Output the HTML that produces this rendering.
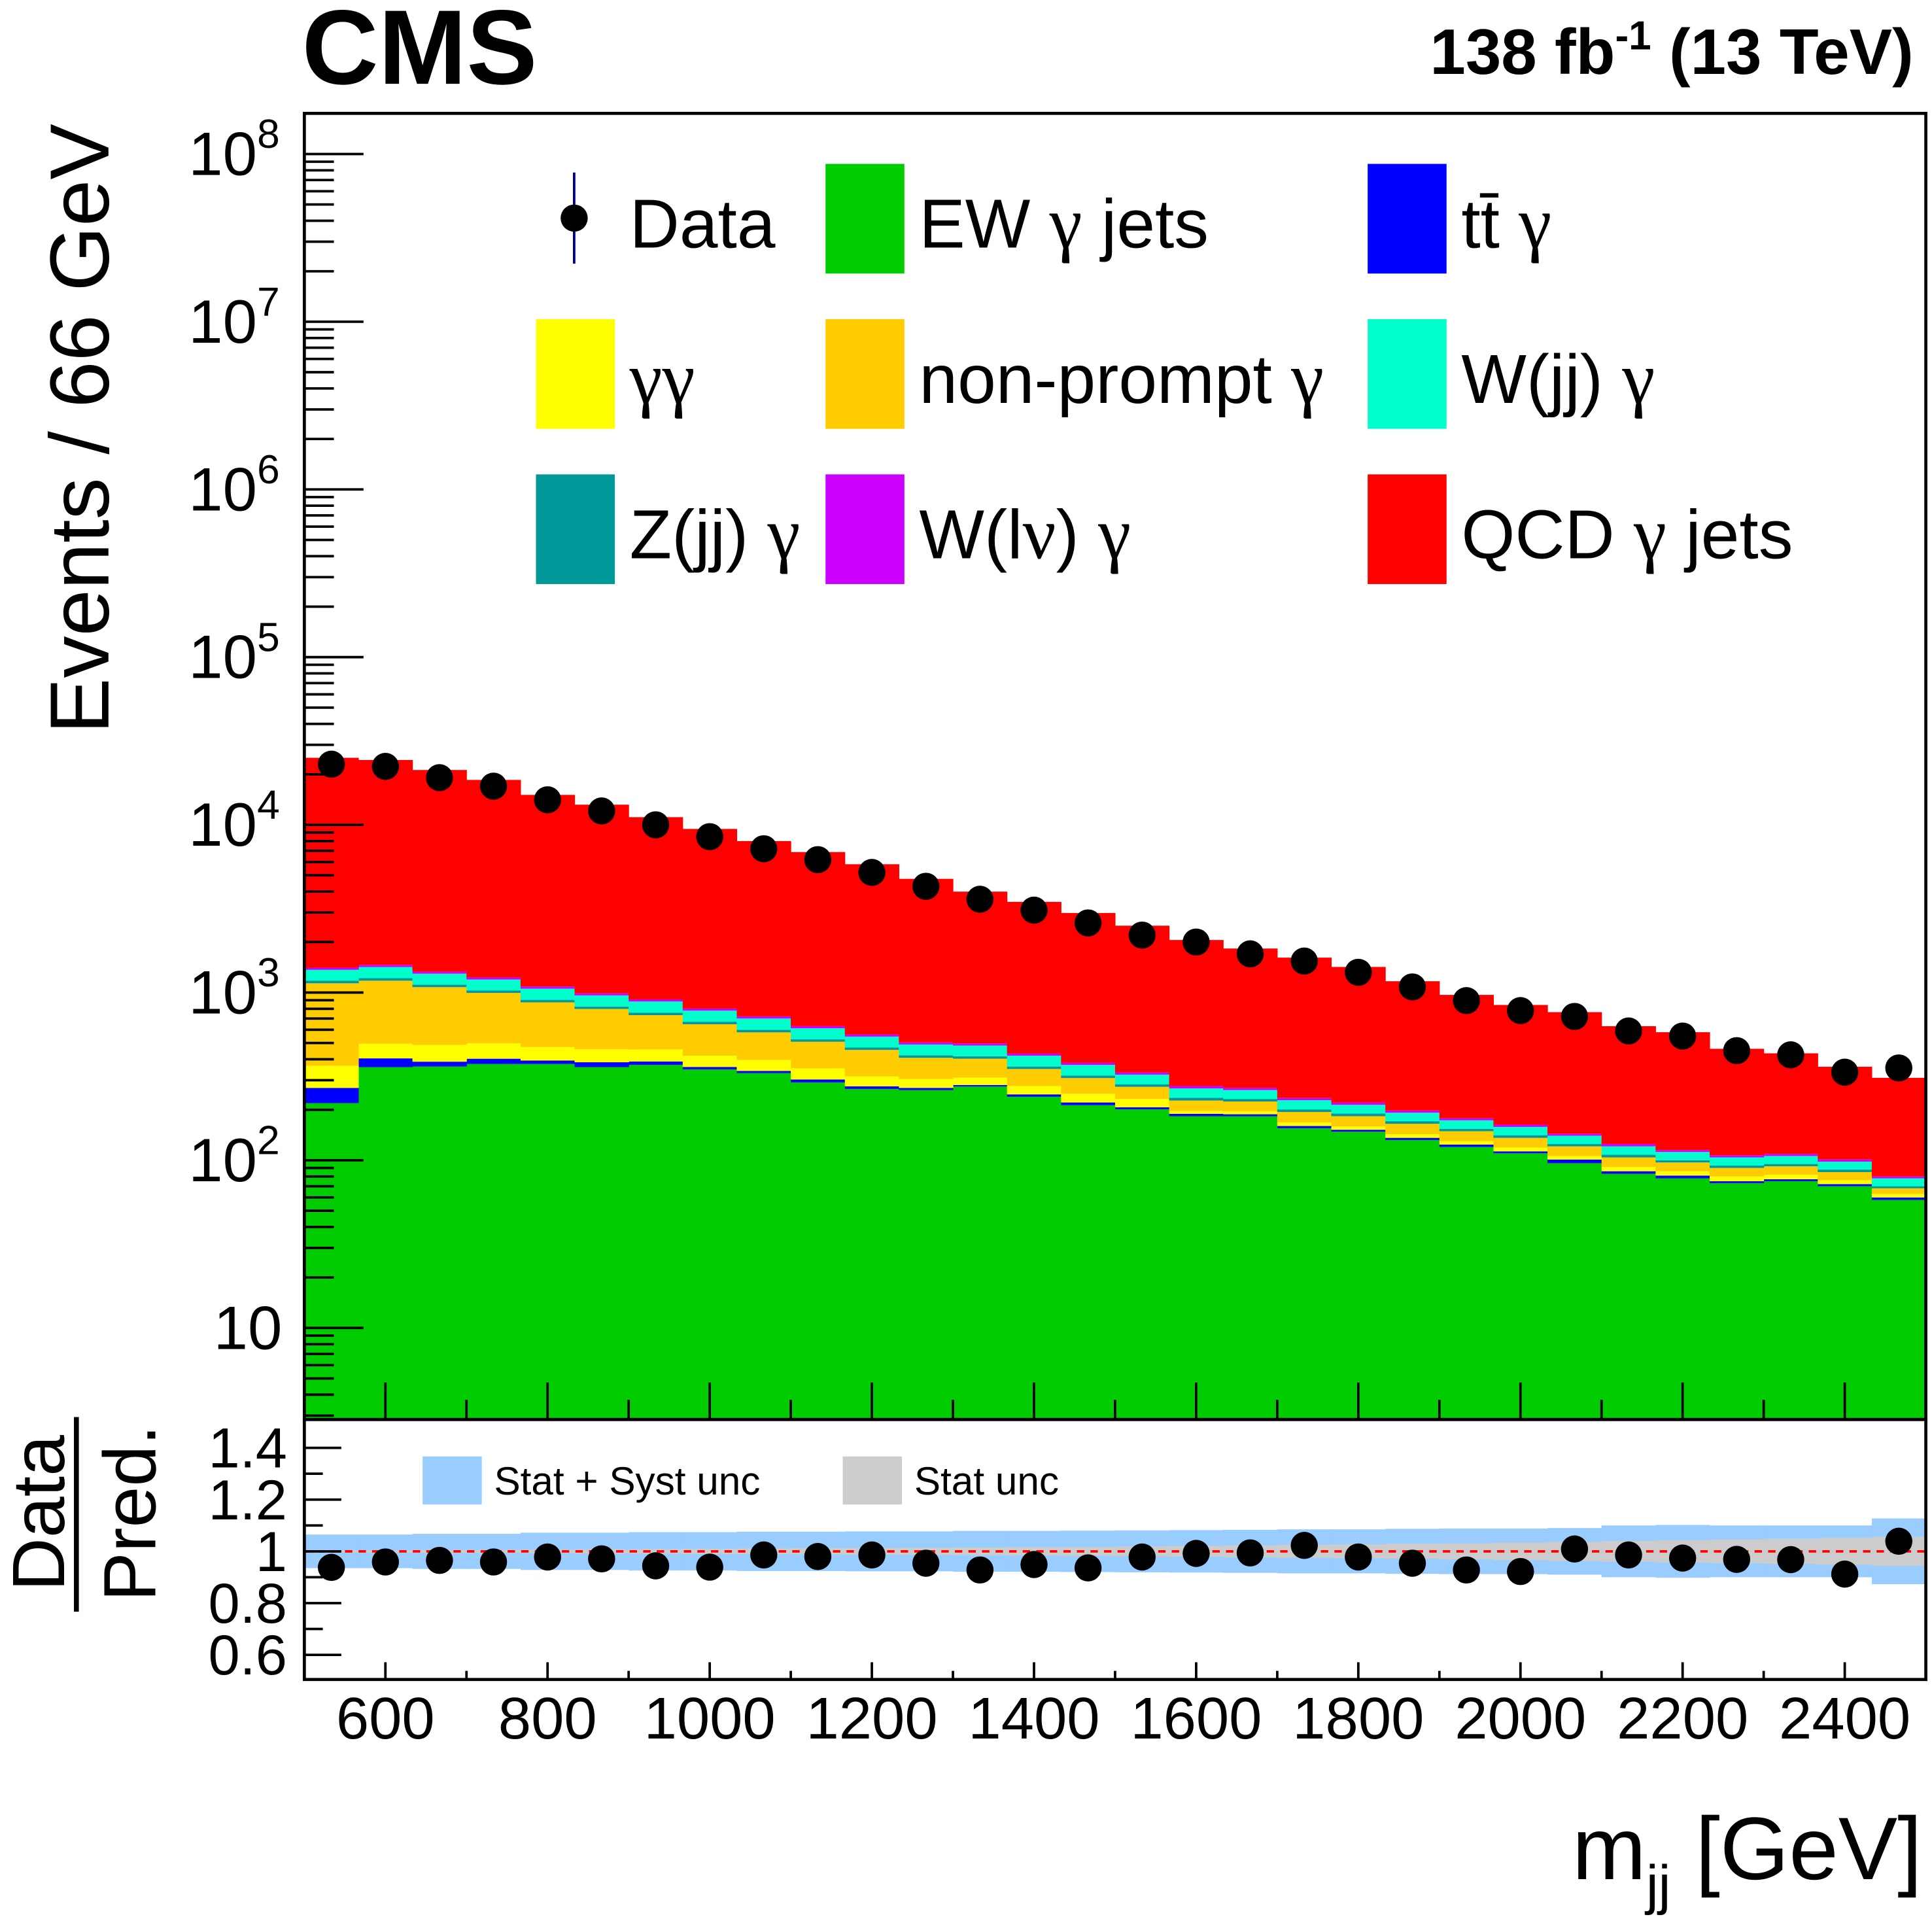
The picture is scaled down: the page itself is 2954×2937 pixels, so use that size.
<!DOCTYPE html>
<html><head><meta charset="utf-8"><style>
html,body{margin:0;padding:0;background:#fff}
svg{display:block}
text{font-family:"Liberation Sans",sans-serif}
.g{font-family:"Liberation Serif",serif}
</style></head><body>
<svg id="chart" xmlns="http://www.w3.org/2000/svg" width="2954" height="2937" viewBox="0 0 1568 1559" preserveAspectRatio="none">
<g id="stack"></g>
<g id="ratioBands"></g>
<g id="axes"></g>
<g id="points"></g>
<text x="245" y="68" font-size="86" font-weight="bold">CMS</text>
<text x="1553" y="60" font-size="52" font-weight="bold" text-anchor="end">138 fb<tspan font-size="33" dy="-20">-1</tspan><tspan dy="20"> (13 TeV)</tspan></text>
<text transform="translate(88,348) rotate(-90)" font-size="68" text-anchor="middle">Events / 66 GeV</text>
<text x="1560" y="1525" font-size="72" text-anchor="end">m<tspan font-size="45" dy="20">jj</tspan><tspan dy="-20"> [GeV]</tspan></text>
<g>
<text transform="translate(52,1228) rotate(-90)" font-size="60" text-anchor="middle">Data</text>
<line x1="62" y1="1150" x2="62" y2="1308" stroke="#000" stroke-width="4"/>
<text transform="translate(126,1228) rotate(-90)" font-size="60" text-anchor="middle">Pred.</text>
</g>
<g id="legend"></g>
</svg>
<script>
const NS="http://www.w3.org/2000/svg";
const binLo=[500,566.67,633.33,700,766.67,833.33,900,966.67,1033.33,1100,1166.67,1233.33,1300,1366.67,1433.33,1500,1566.67,1633.33,1700,1766.67,1833.33,1900,1966.67,2033.33,2100,2166.67,2233.33,2300,2366.67,2433.33];
const binW=66.667;
const ewGamma=[219,359,362,375,375,359,370,348,331,291,266,262,275,239,213,201,183,183,155,148,132,120,110,96,83,78,73,75,70,58];
const ttGamma=[51,46,25,28,18,25,18,12,10,12,10,8,6,8,8,6,6,5,5,4,4,4,3,5,3,3,2,2,2,2];
const gammaGamma=[96,90,100,95,80,75,70,60,55,50,40,35,30,30,28,25,8,8,8,7,7,6,6,5,5,5,5,5,4,3];
const nonPrompt=[770,682,590,497,401,339,275,227,183,156,139,103,92,73,60,42,30,28,26,24,22,19,17,15,13,11,10,10,9,5];
const wjjGamma=[190,200,180,165,150,135,125,110,100,85,75,68,66,58,50,40,32,30,27,24,21,19,17,15,13,12,11,11,10,8];
const zjjGamma=[40,42,38,35,31,28,26,23,21,18,16,14,14,12,11,10,9,8,7,7,6,5,5,4,4,3,3,3,3,2];
const wlvGamma=[40,42,38,35,31,28,26,23,21,18,16,14,14,12,11,10,9,8,7,7,6,5,5,4,4,3,3,3,3,2];
const qcdGamma=[23700,22900,19900,17300,14000,12200,10200,8650,7280,6250,5260,4260,3500,3040,2600,2170,1780,1560,1380,1200,970,790,680,620,505,465,355,325,260,230];
const dataVals=[23000,22300,19100,17000,14100,12100,10000,8500,7200,6200,5200,4300,3600,3100,2600,2200,2000,1700,1540,1320,1080,895,780,720,590,550,450,425,335,355];
const ratioVals=[0.938,0.959,0.965,0.959,0.978,0.971,0.944,0.939,0.986,0.980,0.986,0.954,0.928,0.949,0.936,0.978,0.992,0.994,1.023,0.978,0.954,0.928,0.922,1.009,0.986,0.974,0.969,0.968,0.912,1.039];
const systUnc=[0.065,0.065,0.068,0.068,0.072,0.072,0.074,0.074,0.076,0.076,0.077,0.077,0.079,0.079,0.08,0.081,0.082,0.083,0.085,0.085,0.087,0.088,0.088,0.09,0.1,0.102,0.1,0.1,0.1,0.127];
const statUnc=[0.005,0.005,0.006,0.006,0.007,0.008,0.009,0.01,0.011,0.012,0.013,0.014,0.015,0.016,0.017,0.019,0.021,0.023,0.025,0.027,0.029,0.031,0.034,0.037,0.04,0.043,0.046,0.049,0.052,0.056];
const xTicks=[600,800,1000,1200,1400,1600,1800,2000,2200,2400];
const yTickExps=[1,2,3,4,5,6,7,8];
const ratioTicks=[0.6,0.8,1,1.2,1.4];

const L=247,R=1563,T=92,B=1152,RT=1152,RB=1363;
const X=v=>L+(v-500)*(R-L)/2000;
const Y=v=>125+(8-Math.log10(v))*136.1;
const YR=r=>1259-(r-1)*210;
function mk(tag,attrs,parent){const e=document.createElementNS(NS,tag);for(const k in attrs)e.setAttribute(k,attrs[k]);parent.appendChild(e);return e;}

const stackG=document.getElementById('stack');
const series=[[ewGamma,'#00cc00','ew-gamma-jets'],[ttGamma,'#0000ff','tt-gamma'],[gammaGamma,'#ffff00','gamma-gamma'],[nonPrompt,'#ffcc00','non-prompt-gamma'],[zjjGamma,'#009999','zjj-gamma'],[wjjGamma,'#00ffcc','wjj-gamma'],[wlvGamma,'#cc00ff','wlnu-gamma'],[qcdGamma,'#ff0000','qcd-gamma-jets']];
const cum=binLo.map(()=>0);
const yFloor=Y(2.86);
series.forEach(([arr,col,name])=>{
  binLo.forEach((lo,i)=>{
    const base=cum[i];const top=base+arr[i];cum[i]=top;
    const y0=base>0?Math.min(Y(base),yFloor):yFloor;const y1=Math.max(Y(top),T);
    const r=mk('rect',{x:X(lo),y:y1,width:X(lo+binW)-X(lo)+0.3,height:Math.max(0,y0-y1),fill:col},stackG);
    
    
  });
});

const rb=document.getElementById('ratioBands');
binLo.forEach((lo,i)=>{
  const a=mk('rect',{x:X(lo),y:YR(1+systUnc[i]),width:X(lo+binW)-X(lo)+0.3,height:YR(1-systUnc[i])-YR(1+systUnc[i]),fill:'#99ccff'},rb);
  
  
  const b=mk('rect',{x:X(lo),y:YR(1+statUnc[i]),width:X(lo+binW)-X(lo)+0.3,height:YR(1-statUnc[i])-YR(1+statUnc[i]),fill:'#cccccc'},rb);
  
  
});
const dl=mk('line',{x1:L,x2:R,y1:YR(1),y2:YR(1),stroke:'#ff0000','stroke-width':2,'stroke-dasharray':'6 5'},rb);



const ax=document.getElementById('axes');
mk('rect',{x:L,y:T,width:R-L,height:B-T,fill:'none',stroke:'#000','stroke-width':2.5},ax);
mk('rect',{x:L,y:RT,width:R-L,height:RB-RT,fill:'none',stroke:'#000','stroke-width':2.5},ax);
for(let d=0;d<=8;d++){for(let m=1;m<10;m++){const v=m*Math.pow(10,d);const y=Y(v);if(y<T||y>B)continue;
  mk('line',{x1:L,x2:L+(m===1?48:24),y1:y,y2:y,stroke:'#000','stroke-width':2},ax);}}
yTickExps.forEach(e=>{const y=Y(Math.pow(10,e));
  const tx=mk('text',{x:e===1?L-18:L-20,y:y+17,'font-size':50,'text-anchor':'end'},ax);
  if(e===1){tx.textContent='10';}
  else{tx.appendChild(document.createTextNode('10'));const ts=mk('tspan',{'font-size':33,dy:-22},tx);ts.textContent=String(e);}
  
  });
for(let v=500;v<=2500;v+=100){const x=X(v);const big=v%200===0;
  mk('line',{x1:x,x2:x,y1:B,y2:B-(big?30:16),stroke:'#000','stroke-width':2},ax);
  mk('line',{x1:x,x2:x,y1:RB,y2:RB-(big?14:7),stroke:'#000','stroke-width':2},ax);}
xTicks.forEach(v=>{const t=mk('text',{x:X(v),y:1411,'font-size':48,'text-anchor':'middle'},ax);t.textContent=String(v);
  
  });
for(let r=0.6;r<=1.45;r+=0.1){const y=YR(r);const big=Math.abs(r*10-Math.round(r*10/2)*2)<0.01;
  mk('line',{x1:L,x2:L+(big?30:15),y1:y,y2:y,stroke:'#000','stroke-width':2},ax);}
ratioTicks.forEach(r=>{const t=mk('text',{x:L-14,y:YR(r)+16,'font-size':46,'text-anchor':'end'},ax);t.textContent=String(r);
  
  });

const pg=document.getElementById('points');
binLo.forEach((lo,i)=>{const cx=X(lo+binW/2);
  const c=mk('circle',{cx:cx,cy:Y(dataVals[i]),r:11,fill:'#000'},pg);
  
  
  const c2=mk('circle',{cx:cx,cy:YR(ratioVals[i]),r:11,fill:'#000'},pg);
  
  });

const lg=document.getElementById('legend');
const items=[[null,['Data'],435,133],['#00cc00',['EW ','γ',' jets'],670,133],['#0000ff',['tt̄ ','γ',''],1110,133],
['#ffff00',['','γγ',''],435,259],['#ffcc00',['non-prompt ','γ',''],670,259],['#00ffcc',['W(jj) ','γ',''],1110,259],
['#009999',['Z(jj) ','γ',''],435,385],['#cc00ff',['W(l','ν',') ','γ'],670,385],['#ff0000',['QCD ','γ',' jets'],1110,385]];
items.forEach(([col,parts,x,y])=>{
  const g=mk('g',{},lg);
  
  
  if(col)mk('rect',{x:x,y:y,width:64,height:89,fill:col},g);
  else{mk('line',{x1:466,x2:466,y1:140,y2:214,stroke:'#000080','stroke-width':2},g);mk('circle',{cx:466,cy:177,r:11,fill:'#000'},g);}
  const t=mk('text',{x:x+76,y:y+68,'font-size':56},g);
  parts.forEach(p=>{if(!p)return;const greek=/[γν]/.test(p)&&p.length<=2;const s=mk('tspan',greek?{class:'g','font-size':60}:{},t);s.textContent=p;});
});
[['#99ccff','Stat + Syst unc',343],['#cccccc','Stat unc',684]].forEach(([col,label,x])=>{
  const g=mk('g',{},lg);
  
  
  mk('rect',{x:x,y:1182,width:48,height:39,fill:col},g);
  const t=mk('text',{x:x+58,y:1213,'font-size':32},g);t.textContent=label;
});
</script>
</body></html>
